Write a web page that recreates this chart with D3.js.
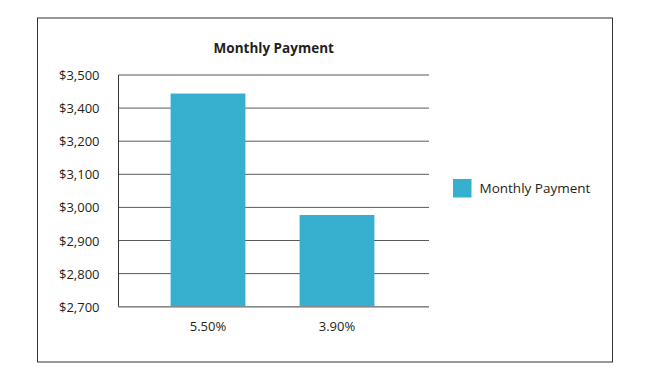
<!DOCTYPE html>
<html>
<head>
<meta charset="utf-8">
<script src="https://cdn.jsdelivr.net/npm/d3@7"></script>
<style>
  html, body { margin: 0; padding: 0; background: #fff; }
  svg { display: block; }
  text { font-family: "Open Sans", "Noto Sans", sans-serif; fill: #231f20; }
</style>
</head>
<body>
<svg id="chart" width="650" height="381"></svg>
<script>
// ---- data ----
const title = "Monthly Payment";
const categories = ["5.50%", "3.90%"];
const seriesName = "Monthly Payment";
const values = [3444, 2977];
const tickValues = [2700, 2800, 2900, 3000, 3100, 3200, 3400, 3500];
const tickLabels = ["$2,700", "$2,800", "$2,900", "$3,000", "$3,100", "$3,200", "$3,400", "$3,500"];

// ---- layout ----
const svg = d3.select("#chart");
const plot = { left: 118.5, right: 429, top: 75, bottom: 306.7 };
const barColor = "#37afcf";

// frame
svg.append("rect")
  .attr("x", 37.5).attr("y", 18).attr("width", 575).attr("height", 344)
  .attr("fill", "none").attr("stroke", "#333").attr("stroke-width", 1);

// y scale: evenly spaced gridlines at the labelled tick values (piecewise linear)
const stepY = (plot.bottom - plot.top) / (tickValues.length - 1);
const y = d3.scaleLinear()
  .domain(tickValues)
  .range(tickValues.map((d, i) => plot.bottom - i * stepY));

const x = d3.scaleBand()
  .domain(categories)
  .range([143.5, 401.5])
  .paddingInner(0.42)
  .paddingOuter(0.21);

// gridlines
svg.append("g").selectAll("line")
  .data(tickValues)
  .join("line")
  .attr("x1", plot.left).attr("x2", plot.right)
  .attr("y1", d => y(d)).attr("y2", d => y(d))
  .attr("stroke", "#5a5a5a").attr("stroke-width", 1);

// y axis labels
const yAxis = d3.axisLeft(y)
  .tickValues(tickValues)
  .tickFormat((d, i) => tickLabels[i])
  .tickSize(0).tickPadding(0);
const gy = svg.append("g").attr("transform", `translate(99.5,0)`).call(yAxis);
gy.select(".domain").remove();
gy.selectAll("text")
  .attr("font-family", '"Open Sans", sans-serif')
  .attr("font-size", 13).attr("fill", "#231f20")
  .attr("dy", "0.35em");

// bars
svg.append("g").selectAll("rect")
  .data(values)
  .join("rect")
  .attr("x", (d, i) => x(categories[i]))
  .attr("width", x.bandwidth())
  .attr("y", d => y(d))
  .attr("height", d => plot.bottom - y(d))
  .attr("fill", barColor);

// axis lines (left and bottom)
svg.append("line")
  .attr("x1", plot.left).attr("x2", plot.left)
  .attr("y1", plot.top).attr("y2", plot.bottom)
  .attr("stroke", "#333").attr("stroke-width", 1);
svg.append("line")
  .attr("x1", plot.left).attr("x2", plot.right)
  .attr("y1", plot.bottom).attr("y2", plot.bottom)
  .attr("stroke", "#888").attr("stroke-width", 1.5);

// x axis labels
const xAxis = d3.axisBottom(x).tickSize(0).tickPadding(0);
const gx = svg.append("g").attr("transform", `translate(0,326.5)`).call(xAxis);
gx.select(".domain").remove();
gx.selectAll("text")
  .attr("font-family", '"Open Sans", sans-serif')
  .attr("font-size", 13).attr("fill", "#231f20")
  .attr("dy", "0.35em");

// title
svg.append("text")
  .attr("x", (plot.left + plot.right) / 2).attr("y", 52.7)
  .attr("text-anchor", "middle")
  .attr("font-size", 13.5).attr("font-weight", "bold")
  .text(title);

// legend
const lg = svg.append("g").attr("transform", "translate(453,179)");
lg.append("rect").attr("width", 18.5).attr("height", 18.5).attr("fill", barColor);
lg.append("text").attr("x", 26.5).attr("y", 9.5).attr("dy", "0.35em")
  .attr("font-size", 13.5).text(seriesName);
</script>
</body>
</html>
